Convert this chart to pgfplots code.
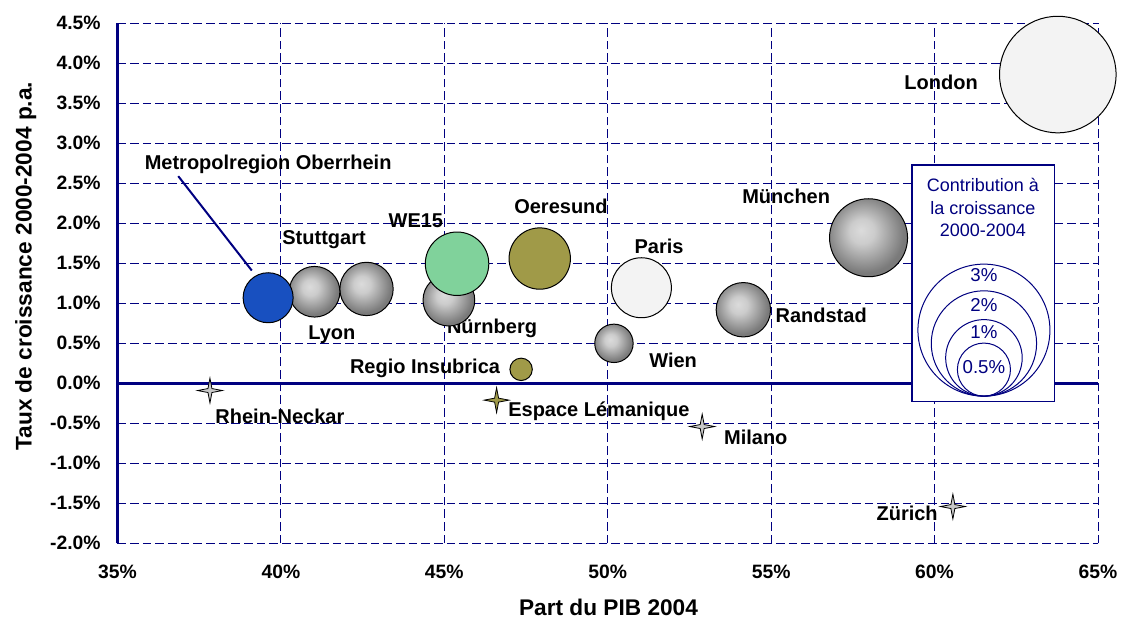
\documentclass[border=0pt]{standalone}
\usepackage{pgfplots}
\pgfplotsset{compat=1.18}
\usepackage{fontspec}
\setmainfont{Liberation Sans}
\definecolor{navy}{RGB}{0,0,128}
\definecolor{bblue}{RGB}{24,80,192}
\definecolor{bgreen}{RGB}{128,210,155}
\definecolor{bolive}{RGB}{160,154,72}
\definecolor{bwhite}{RGB}{243,243,243}
\definecolor{sgray}{RGB}{200,200,200}

\pgfdeclareradialshading{bubshade}{\pgfpoint{-5bp}{5bp}}{%
  color(0bp)=(black!14); color(8bp)=(black!20); color(25bp)=(black!52); color(50bp)=(black!52)}

\pgfdeclareplotmark{bub}{%
  \pgfpathcircle{\pgfpointorigin}{\pgfplotmarksize}%
  \pgfshadepath{bubshade}{0}%
  \pgfpathcircle{\pgfpointorigin}{\pgfplotmarksize}%
  \pgfusepath{stroke}%
}
\pgfdeclareplotmark{star4}{%
  \pgfpathmoveto{\pgfpoint{0pt}{\pgfplotmarksize}}%
  \pgfpathlineto{\pgfpoint{0.16\pgfplotmarksize}{0.16\pgfplotmarksize}}%
  \pgfpathlineto{\pgfpoint{\pgfplotmarksize}{0pt}}%
  \pgfpathlineto{\pgfpoint{0.16\pgfplotmarksize}{-0.16\pgfplotmarksize}}%
  \pgfpathlineto{\pgfpoint{0pt}{-\pgfplotmarksize}}%
  \pgfpathlineto{\pgfpoint{-0.16\pgfplotmarksize}{-0.16\pgfplotmarksize}}%
  \pgfpathlineto{\pgfpoint{-\pgfplotmarksize}{0pt}}%
  \pgfpathlineto{\pgfpoint{-0.16\pgfplotmarksize}{0.16\pgfplotmarksize}}%
  \pgfpathclose
  \pgfusepath{fill,stroke}%
}

\begin{document}
\begin{tikzpicture}
\begin{axis}[
  scale only axis, width=735.4pt, height=390pt,
  xmin=35, xmax=65, ymin=-2, ymax=4.5,
  clip=false,
  xtick={35,40,45,50,55,60,65},
  ytick={-2,-1.5,-1,-0.5,0,0.5,1,1.5,2,2.5,3,3.5,4,4.5},
  xticklabels={35\%,40\%,45\%,50\%,55\%,60\%,65\%},
  yticklabels={-2.0\%,-1.5\%,-1.0\%,-0.5\%,0.0\%,0.5\%,1.0\%,1.5\%,2.0\%,2.5\%,3.0\%,3.5\%,4.0\%,4.5\%},
  grid=major,
  major grid style={navy, line width=0.75pt, dash pattern=on 6.5pt off 3pt},
  axis line style={draw=none},
  tick align=inside,
  major tick length=5pt,
  ytick pos=left, xtick pos=bottom,
  ytick style={navy, line width=0.75pt},
  xtick style={draw=none},
  ticklabel style={font=\fontsize{14.5}{17}\selectfont\bfseries, inner sep=0pt},
  xticklabel style={anchor=north, yshift=-16.3pt},
  yticklabel style={anchor=east, xshift=-12.4pt},
  xlabel={Part du PIB 2004},
  ylabel={Taux de croissance 2000-2004 p.a.},
  label style={font=\fontsize{17}{20}\selectfont\bfseries, inner sep=0pt},
  xlabel style={at={(axis description cs:0.5008,-0.1235)}, anchor=center},
  ylabel style={at={(axis description cs:-0.0935,0.533)}, anchor=center},
]
% axis lines
\draw[navy, line width=1.8pt] (axis cs:35,-2) -- (axis cs:35,4.5);
\draw[navy, line width=2.2pt] (axis cs:35,0) -- (axis cs:65,0);

% bubbles
\addplot[only marks, mark=bub, mark size=20pt, mark options={draw=black, line width=0.75pt}] coordinates {(42.62,1.18)};   % Stuttgart
\addplot[only marks, mark=bub, mark size=19pt, mark options={draw=black, line width=0.75pt}] coordinates {(41.03,1.145)};  % Lyon
\addplot[only marks, mark=*, mark size=18.75pt, mark options={fill=bblue, draw=black, line width=0.75pt}] coordinates {(39.61,1.07)}; % Oberrhein
\addplot[only marks, mark=bub, mark size=19.4pt, mark options={draw=black, line width=0.75pt}] coordinates {(45.14,1.04)};  % Nuernberg
\addplot[only marks, mark=*, mark size=23.8pt, mark options={fill=bgreen, draw=black, line width=0.75pt}] coordinates {(45.39,1.495)}; % WE15
\addplot[only marks, mark=*, mark size=23pt, mark options={fill=bolive, draw=black, line width=0.75pt}] coordinates {(47.92,1.56)}; % Oeresund
\addplot[only marks, mark=*, mark size=22.5pt, mark options={fill=bwhite, draw=black, line width=0.75pt}] coordinates {(51.03,1.195)}; % Paris
\addplot[only marks, mark=*, mark size=8.4pt, mark options={fill=bolive, draw=black, line width=0.75pt}] coordinates {(47.35,0.175)}; % Regio Insubrica
\addplot[only marks, mark=bub, mark size=14.4pt, mark options={draw=black, line width=0.75pt}] coordinates {(50.19,0.50)};  % Wien
\addplot[only marks, mark=bub, mark size=20.4pt, mark options={draw=black, line width=0.75pt}] coordinates {(54.15,0.92)};  % Randstad
\addplot[only marks, mark=bub, mark size=29.25pt, mark options={draw=black, line width=0.75pt}] coordinates {(57.98,1.82)}; % Muenchen
\addplot[only marks, mark=*, mark size=43.7pt, mark options={fill=bwhite, draw=black, line width=0.75pt}] coordinates {(63.77,3.86)}; % London

% stars (negative growth)
\addplot[only marks, mark=star4, mark size=9.3pt, mark options={fill=sgray, draw=black, line width=0.6pt}] coordinates {(37.83,-0.09) (52.89,-0.54) (60.56,-1.54)};
\addplot[only marks, mark=star4, mark size=9.3pt, mark options={fill=bolive, draw=black, line width=0.6pt}] coordinates {(46.60,-0.21)};

% leader line
\draw[navy, line width=1.5pt] (axis cs:36.86,2.59) -- (axis cs:39.11,1.41);

% labels
\begin{scope}[every node/.style={font=\fontsize{15}{18}\selectfont\bfseries, anchor=base, inner sep=0pt}]
\node at (axis cs:39.61,2.676) {Metropolregion Oberrhein};
\node at (axis cs:41.32,1.739) {Stuttgart};
\node at (axis cs:41.56,0.551) {Lyon};
\node at (axis cs:44.13,1.951) {WE15};
\node at (axis cs:48.57,2.126) {Oeresund};
\node at (axis cs:51.57,1.626) {Paris};
\node at (axis cs:46.46,0.626) {Nürnberg};
\node at (axis cs:44.41,0.126) {Regio Insubrica};
\node at (axis cs:52.00,0.201) {Wien};
\node at (axis cs:56.53,0.764) {Randstad};
\node at (axis cs:55.46,2.251) {München};
\node at (axis cs:60.20,3.676) {London};
\node at (axis cs:39.97,-0.499) {Rhein-Neckar};
\node at (axis cs:49.73,-0.411) {Espace Lémanique};
\node at (axis cs:54.53,-0.761) {Milano};
\node at (axis cs:59.16,-1.711) {Zürich};
\end{scope}

% bubble-size legend
\draw[navy, line width=1pt, fill=white] (axis cs:59.31,2.73) rectangle (axis cs:63.66,-0.23);
\begin{scope}[every node/.style={font=\fontsize{13.5}{16}\selectfont, text=navy, anchor=base, inner sep=0pt}]
\node at (axis cs:61.48,2.398) {Contribution à};
\node at (axis cs:61.48,2.106) {la croissance};
\node at (axis cs:61.48,1.835) {2000-2004};
\end{scope}
\draw[navy, line width=0.75pt] (axis cs:61.51,-0.16) ++(0pt,49.5pt) circle[radius=49.5pt];
\draw[navy, line width=0.75pt] (axis cs:61.51,-0.16) ++(0pt,39.5pt) circle[radius=39.5pt];
\draw[navy, line width=0.75pt] (axis cs:61.51,-0.16) ++(0pt,28.7pt) circle[radius=28.7pt];
\draw[navy, line width=0.75pt] (axis cs:61.51,-0.16) ++(0pt,19.9pt) circle[radius=19.9pt];
\begin{scope}[every node/.style={font=\fontsize{14}{16}\selectfont, text=navy, anchor=base, inner sep=0pt}]
\node at (axis cs:61.51,1.273) {3\%};
\node at (axis cs:61.51,0.898) {2\%};
\node at (axis cs:61.51,0.564) {1\%};
\node at (axis cs:61.51,0.126) {0.5\%};
\end{scope}
\end{axis}
\pgfresetboundingbox
\path (-88.1pt,-56.8pt) rectangle (753.4pt,407.5pt);
\end{tikzpicture}
\end{document}
